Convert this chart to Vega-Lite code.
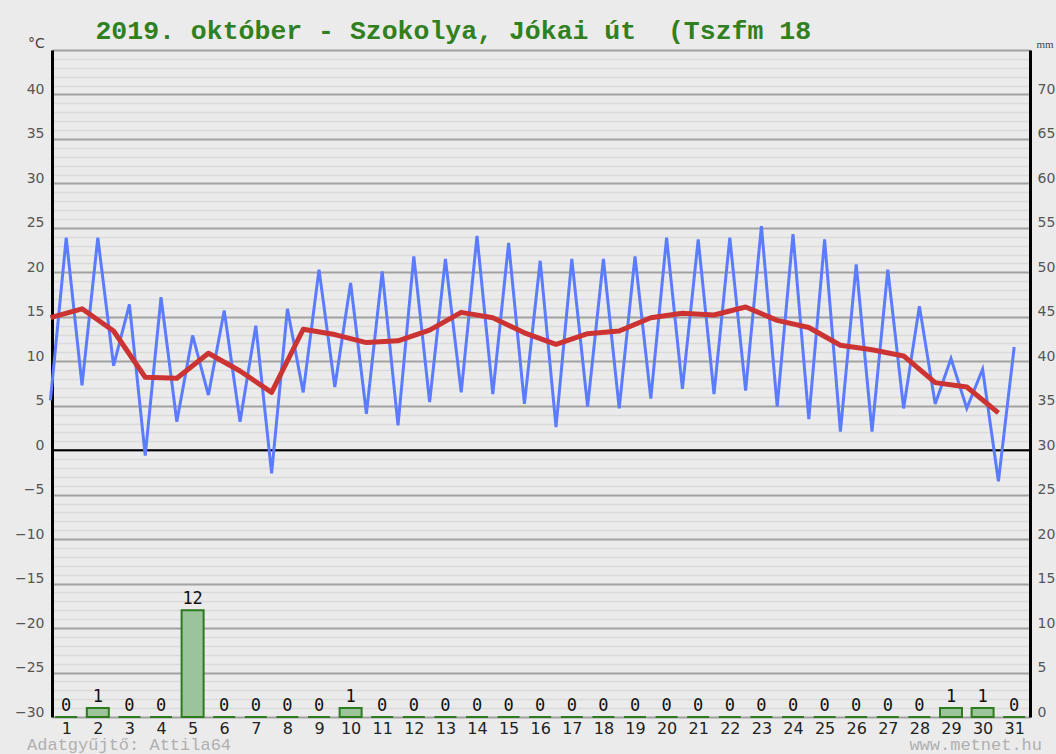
{
  "$schema": "https://vega.github.io/schema/vega-lite/v6.json",
  "width": 978,
  "height": 667,
  "autosize": {"type": "none"},
  "padding": {"left": 52, "top": 50, "right": 26, "bottom": 37},
  "background": "#ebebeb",
  "config": {
    "view": {"stroke": null, "fill": "#ebebeb"},
    "axis": {"labelFlush": false, "labelOverlap": false, "ticks": false}
  },
  "title": {
    "text": "2019. október - Szokolya, Jókai út \u00a0(Tszfm 18",
    "anchor": "start",
    "dx": 81,
    "dy": 41,
    "offset": 12,
    "baseline": "alphabetic",
    "font": "Liberation Mono",
    "fontSize": 26.5,
    "fontWeight": "bold",
    "color": "#308020"
  },
  "datasets": {
    "minmax": [
      {"pos": 0.5, "temp": 5.6}, {"pos": 1, "temp": 23.9},
      {"pos": 1.5, "temp": 7.3}, {"pos": 2, "temp": 23.9},
      {"pos": 2.5, "temp": 9.5}, {"pos": 3, "temp": 16.4},
      {"pos": 3.5, "temp": -0.6}, {"pos": 4, "temp": 17.2},
      {"pos": 4.5, "temp": 3.2}, {"pos": 5, "temp": 12.9},
      {"pos": 5.5, "temp": 6.2}, {"pos": 6, "temp": 15.7},
      {"pos": 6.5, "temp": 3.2}, {"pos": 7, "temp": 14.0},
      {"pos": 7.5, "temp": -2.6}, {"pos": 8, "temp": 15.9},
      {"pos": 8.5, "temp": 6.5}, {"pos": 9, "temp": 20.3},
      {"pos": 9.5, "temp": 7.1}, {"pos": 10, "temp": 18.8},
      {"pos": 10.5, "temp": 4.1}, {"pos": 11, "temp": 20.1},
      {"pos": 11.5, "temp": 2.8}, {"pos": 12, "temp": 21.8},
      {"pos": 12.5, "temp": 5.4}, {"pos": 13, "temp": 21.5},
      {"pos": 13.5, "temp": 6.5}, {"pos": 14, "temp": 24.1},
      {"pos": 14.5, "temp": 6.3}, {"pos": 15, "temp": 23.3},
      {"pos": 15.5, "temp": 5.2}, {"pos": 16, "temp": 21.3},
      {"pos": 16.5, "temp": 2.6}, {"pos": 17, "temp": 21.5},
      {"pos": 17.5, "temp": 4.9}, {"pos": 18, "temp": 21.5},
      {"pos": 18.5, "temp": 4.7}, {"pos": 19, "temp": 21.8},
      {"pos": 19.5, "temp": 5.8}, {"pos": 20, "temp": 23.9},
      {"pos": 20.5, "temp": 6.9}, {"pos": 21, "temp": 23.7},
      {"pos": 21.5, "temp": 6.3}, {"pos": 22, "temp": 23.9},
      {"pos": 22.5, "temp": 6.7}, {"pos": 23, "temp": 25.2},
      {"pos": 23.5, "temp": 4.9}, {"pos": 24, "temp": 24.3},
      {"pos": 24.5, "temp": 3.5}, {"pos": 25, "temp": 23.7},
      {"pos": 25.5, "temp": 2.1}, {"pos": 26, "temp": 20.9},
      {"pos": 26.5, "temp": 2.1}, {"pos": 27, "temp": 20.3},
      {"pos": 27.5, "temp": 4.7}, {"pos": 28, "temp": 16.2},
      {"pos": 28.5, "temp": 5.2}, {"pos": 29, "temp": 10.3},
      {"pos": 29.5, "temp": 4.7}, {"pos": 30, "temp": 9.1},
      {"pos": 30.5, "temp": -3.5}, {"pos": 31, "temp": 11.6}
    ],
    "mean": [
      {"pos": 0.5, "temp": 14.9}, {"pos": 1.5, "temp": 15.9},
      {"pos": 2.5, "temp": 13.4}, {"pos": 3.5, "temp": 8.2},
      {"pos": 4.5, "temp": 8.1}, {"pos": 5.5, "temp": 10.9},
      {"pos": 6.5, "temp": 8.9}, {"pos": 7.5, "temp": 6.5},
      {"pos": 8.5, "temp": 13.6}, {"pos": 9.5, "temp": 13.0},
      {"pos": 10.5, "temp": 12.1}, {"pos": 11.5, "temp": 12.3},
      {"pos": 12.5, "temp": 13.5}, {"pos": 13.5, "temp": 15.5},
      {"pos": 14.5, "temp": 14.9}, {"pos": 15.5, "temp": 13.2},
      {"pos": 16.5, "temp": 11.9}, {"pos": 17.5, "temp": 13.1},
      {"pos": 18.5, "temp": 13.4}, {"pos": 19.5, "temp": 14.9},
      {"pos": 20.5, "temp": 15.4}, {"pos": 21.5, "temp": 15.2},
      {"pos": 22.5, "temp": 16.1}, {"pos": 23.5, "temp": 14.6},
      {"pos": 24.5, "temp": 13.8}, {"pos": 25.5, "temp": 11.8},
      {"pos": 26.5, "temp": 11.3}, {"pos": 27.5, "temp": 10.6},
      {"pos": 28.5, "temp": 7.6}, {"pos": 29.5, "temp": 7.1},
      {"pos": 30.5, "temp": 4.2}
    ],
    "precip": [
      {"day": 1, "mm": 0}, {"day": 2, "mm": 1}, {"day": 3, "mm": 0},
      {"day": 4, "mm": 0}, {"day": 5, "mm": 12}, {"day": 6, "mm": 0},
      {"day": 7, "mm": 0}, {"day": 8, "mm": 0}, {"day": 9, "mm": 0},
      {"day": 10, "mm": 1}, {"day": 11, "mm": 0}, {"day": 12, "mm": 0},
      {"day": 13, "mm": 0}, {"day": 14, "mm": 0}, {"day": 15, "mm": 0},
      {"day": 16, "mm": 0}, {"day": 17, "mm": 0}, {"day": 18, "mm": 0},
      {"day": 19, "mm": 0}, {"day": 20, "mm": 0}, {"day": 21, "mm": 0},
      {"day": 22, "mm": 0}, {"day": 23, "mm": 0}, {"day": 24, "mm": 0},
      {"day": 25, "mm": 0}, {"day": 26, "mm": 0}, {"day": 27, "mm": 0},
      {"day": 28, "mm": 0}, {"day": 29, "mm": 1}, {"day": 30, "mm": 1},
      {"day": 31, "mm": 0}
    ]
  },
  "layer": [
    {
      "layer": [
        {
          "data": {"name": "minmax"},
          "mark": {"type": "line", "opacity": 0, "strokeWidth": 0},
          "encoding": {
            "x": {
              "field": "pos", "type": "quantitative", "title": null,
              "scale": {"domain": [0.55, 31.5], "nice": false, "zero": false, "padding": 0},
              "axis": {
                "values": [1,2,3,4,5,6,7,8,9,10,11,12,13,14,15,16,17,18,19,20,21,22,23,24,25,26,27,28,29,30,31],
                "tickCount": 40,
                "format": "d", "grid": false, "domain": false,
                "labelFont": "DejaVu Sans", "labelFontSize": 16, "labelColor": "#222",
                "labelPadding": 3
              }
            },
            "y": {
              "field": "temp", "type": "quantitative",
              "scale": {"domain": [-30, 45], "nice": false, "zero": false},
              "axis": {
                "orient": "left",
                "values": [-30,-29,-28,-27,-26,-25,-24,-23,-22,-21,-20,-19,-18,-17,-16,-15,-14,-13,-12,-11,-10,-9,-8,-7,-6,-5,-4,-3,-2,-1,0,1,2,3,4,5,6,7,8,9,10,11,12,13,14,15,16,17,18,19,20,21,22,23,24,25,26,27,28,29,30,31,32,33,34,35,36,37,38,39,40,41,42,43,44,45],
                "tickCount": 100,
                "labelExpr": "datum.value % 5 === 0 && datum.value <= 40 ? datum.label : ''",
                "grid": true,
                "gridColor": {"condition": {"test": "datum.value % 5 === 0", "value": "#a2a2a2"}, "value": "#dadada"},
                "gridWidth": {"condition": {"test": "datum.value % 5 === 0", "value": 2}, "value": 1.5},
                "domain": true, "domainColor": "#000", "domainWidth": 3,
                "labelFont": "DejaVu Sans", "labelFontSize": 14, "labelColor": "#555",
                "labelPadding": 8, "labelOffset": -5,
                "title": "°C", "titleAngle": 0, "titleX": -16, "titleY": -3,
                "titleAlign": "center", "titleBaseline": "alphabetic",
                "titleFont": "DejaVu Sans", "titleFontSize": 14, "titleFontWeight": "normal", "titleColor": "#444"
              }
            }
          }
        },
        {
          "data": {"values": [{}]},
          "mark": {"type": "rule", "color": "#000", "strokeWidth": 2},
          "encoding": {"y": {"datum": 0}}
        },
        {
          "data": {"name": "minmax"},
          "mark": {"type": "line", "color": "#5b7cff", "strokeWidth": 3},
          "encoding": {
            "x": {"field": "pos", "type": "quantitative", "title": null},
            "y": {"field": "temp", "type": "quantitative"}
          }
        },
        {
          "data": {"name": "mean"},
          "mark": {"type": "line", "color": "#cc3333", "strokeWidth": 5, "strokeJoin": "round"},
          "encoding": {
            "x": {"field": "pos", "type": "quantitative", "title": null},
            "y": {"field": "temp", "type": "quantitative"}
          }
        },
        {
          "data": {"values": [{}]},
          "mark": {"type": "text", "text": "Adatgyűjtő: Attila64", "align": "left", "baseline": "alphabetic", "font": "Liberation Mono", "fontSize": 17, "color": "#b0b0b0"},
          "encoding": {"x": {"datum": -0.24}, "y": {"datum": -33.7}}
        },
        {
          "data": {"values": [{}]},
          "mark": {"type": "text", "text": "www.metnet.hu", "align": "right", "baseline": "alphabetic", "font": "Liberation Mono", "fontSize": 17, "color": "#b0b0b0"},
          "encoding": {"x": {"datum": 31.88}, "y": {"datum": -33.7}}
        }
      ]
    },
    {
      "data": {"name": "precip"},
      "layer": [
        {
          "mark": {"type": "bar", "width": 22, "fill": "#9cc49a", "stroke": "#2d7a1f", "strokeWidth": 2},
          "encoding": {
            "x": {"field": "day", "type": "quantitative", "title": null},
            "y": {
              "field": "mm", "type": "quantitative",
              "scale": {"domain": [0, 75], "nice": false},
              "axis": {
                "orient": "right",
                "values": [0,5,10,15,20,25,30,35,40,45,50,55,60,65,70],
                "tickCount": 20,
                "grid": false,
                "domain": true, "domainColor": "#000", "domainWidth": 3,
                "labelFont": "DejaVu Sans", "labelFontSize": 14, "labelColor": "#555",
                "labelPadding": 7, "labelOffset": -5,
                "title": "mm", "titleAngle": 0, "titleX": 6, "titleY": -3,
                "titleAlign": "left", "titleBaseline": "alphabetic",
                "titleFont": "Liberation Serif", "titleFontSize": 11, "titleFontWeight": "normal", "titleColor": "#444"
              }
            }
          }
        },
        {
          "mark": {"type": "text", "dy": -6, "baseline": "alphabetic", "font": "DejaVu Sans Mono", "fontSize": 17, "color": "#111"},
          "encoding": {
            "x": {"field": "day", "type": "quantitative", "title": null},
            "y": {"field": "mm", "type": "quantitative"},
            "text": {"field": "mm", "type": "quantitative"}
          }
        }
      ]
    }
  ],
  "resolve": {"scale": {"y": "independent"}}
}
